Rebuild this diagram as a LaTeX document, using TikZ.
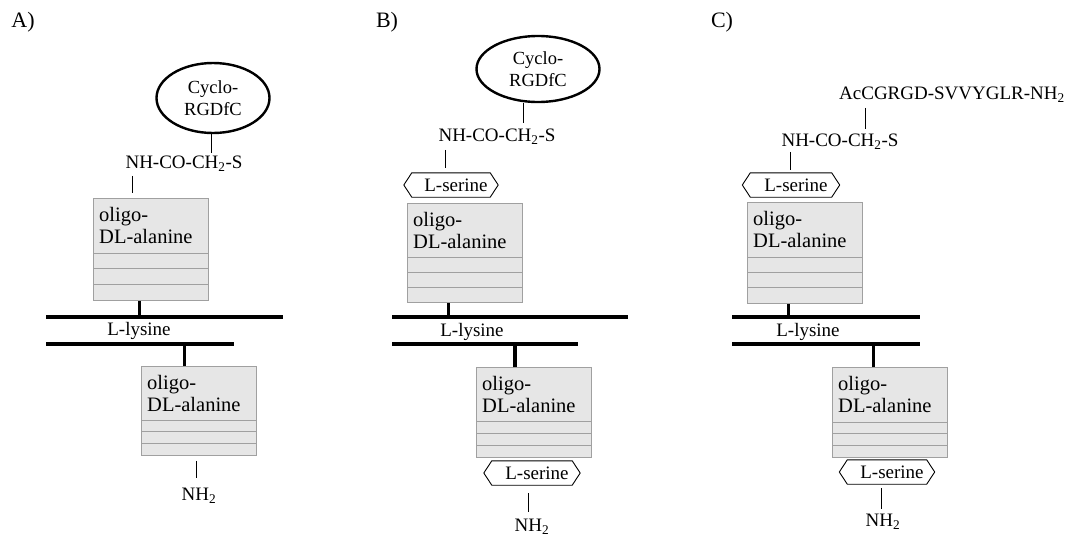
\documentclass[tikz,border=0pt]{standalone}
\usepackage{fontspec}
\setmainfont{Liberation Serif}
\usetikzlibrary{calc,shapes.geometric}
\definecolor{boxfill}{HTML}{E6E6E6}
\definecolor{boxline}{HTML}{A0A0A0}
\tikzset{
  lbl/.style={font=\fontsize{19}{21}\selectfont, inner sep=0pt},
  panel/.style={font=\fontsize{22}{24}\selectfont, inner sep=0pt},
  cyc/.style={ellipse, draw, line width=2.4pt, align=center, font=\fontsize{18.5}{22}\selectfont, inner sep=0pt},
  oligo/.style={draw=boxline, fill=boxfill, line width=0.9pt, minimum width=115pt, anchor=north west, inner sep=0pt},
  stripe/.style={draw=boxline, line width=0.9pt},
  otext/.style={font=\fontsize{20.5}{22}\selectfont, align=left, anchor=north west, inner sep=0pt},
  bar/.style={line width=3.2pt},
  post/.style={line width=3.2pt},
  conn/.style={line width=0.8pt},
  hexn/.style={minimum height=24pt, inner sep=0pt},
  hexline/.style={line width=0.9pt, line join=miter}
}
\newcommand{\drawhex}[1]{\draw[hexline] (#1.north west) -- ([xshift=-8pt]#1.west) -- (#1.south west) -- (#1.south east) -- ([xshift=8pt]#1.east) -- (#1.north east) -- cycle;}
\newcommand{\oligobox}[5]{%
  \node[oligo, minimum height=#4pt] (#1) at (#2,#3) {};
  \pgfmathsetmacro\stripeh{(#4-#5)/3}
  \pgfmathsetmacro\stripea{#5}
  \pgfmathsetmacro\stripeb{#5+\stripeh}
  \pgfmathsetmacro\stripec{#5+2*\stripeh}
  \draw[stripe] ([yshift=-\stripea pt]#1.north west) -- ([yshift=-\stripea pt]#1.north east);
  \draw[stripe] ([yshift=-\stripeb pt]#1.north west) -- ([yshift=-\stripeb pt]#1.north east);
  \draw[stripe] ([yshift=-\stripec pt]#1.north west) -- ([yshift=-\stripec pt]#1.north east);
  \node[otext] (#1t) at ([xshift=6pt,yshift=-9pt]#1.north west) {oligo-\\DL-alanine};
}
\begin{document}
\begin{tikzpicture}[x=1pt,y=-1pt]
\useasboundingbox (0,0) rectangle (1066,536);

% ---------- Panel A ----------
\node[panel] (pA) at (23,22) {A)};
\node[cyc, minimum width=113pt, minimum height=70pt] (eA) at (213,98) {Cyclo-\\RGDfC};
\node[lbl] (kA) at (184,164) {NH-CO-CH\textsubscript{2}-S};
\draw[conn, shorten >=3pt] ([xshift=-2pt]eA.south) -- ([xshift=-2pt]eA.south |- kA.north);
\oligobox{oA1}{93}{198}{102}{55}
\draw[conn, shorten <=4pt, shorten >=5pt] ([xshift=7pt]kA.south west) -- ([xshift=7pt]kA.south west |- oA1.north);
\coordinate (At1) at (46,317); \coordinate (At2) at (283,317);
\draw[bar] (At1) -- (At2);
\draw[post] ([xshift=-11.5pt]oA1.south) -- ([xshift=-11.5pt]oA1.south |- At1);
\node[lbl] (lysA) at (139,331) {L-lysine};
\coordinate (Ab1) at (46,344); \coordinate (Ab2) at (234,344);
\draw[bar] (Ab1) -- (Ab2);
\oligobox{oA2}{141}{366}{89}{54}
\draw[post] ([xshift=-14.5pt]oA2.north) -- ([xshift=-14.5pt]oA2.north |- Ab1);
\node[lbl] (nA) at (199,496) {NH\textsubscript{2}};
\draw[conn, shorten <=5pt, shorten >=10pt] ([xshift=-2.5pt]oA2.south) -- ([xshift=-2.5pt]oA2.south |- nA.north);

% ---------- Panel B ----------
\node[panel] (pB) at (387,22) {B)};
\node[cyc, minimum width=123pt, minimum height=66pt] (eB) at (538,69) {Cyclo-\\RGDfC};
\node[lbl] (kB) at (497,137) {NH-CO-CH\textsubscript{2}-S};
\draw[conn, shorten >=6pt] ([xshift=-15pt]eB.south) -- ([xshift=-15pt]eB.south |- kB.north);
\node[hexn, minimum width=78pt] (hB1) at (451,185) {};
\drawhex{hB1}
\node[lbl] (tB1) at (456,185) {L-serine};
\draw[conn, shorten <=5pt, shorten >=5pt] ([xshift=7pt]kB.south west) -- ([xshift=7pt]kB.south west |- hB1.north);
\oligobox{oB1}{407}{203}{99}{54}
\coordinate (Bt1) at (392,317); \coordinate (Bt2) at (628,317);
\draw[bar] (Bt1) -- (Bt2);
\draw[post] ([xshift=-16.5pt]oB1.south) -- ([xshift=-16.5pt]oB1.south |- Bt1);
\node[lbl] (lysB) at (472,332) {L-lysine};
\coordinate (Bb1) at (392,344); \coordinate (Bb2) at (578,344);
\draw[bar] (Bb1) -- (Bb2);
\oligobox{oB2}{476}{367}{90}{54}
\draw[post] ([xshift=-19pt]oB2.north) -- ([xshift=-19pt]oB2.north |- Bb1);
\node[hexn, minimum width=80pt] (hB2) at (532,473) {};
\drawhex{hB2}
\node[lbl] (tB2) at (537,473) {L-serine};
\node[lbl] (nB) at (532,527) {NH\textsubscript{2}};
\draw[conn, shorten <=8pt, shorten >=7pt] ([xshift=-4pt]hB2.south) -- ([xshift=-4pt]hB2.south |- nB.north);

% ---------- Panel C ----------
\node[panel] (pC) at (722,22) {C)};
\node[lbl] (aC) at (952,95) {AcCGRGD-SVVYGLR-NH\textsubscript{2}};
\node[lbl] (kC) at (840,142) {NH-CO-CH\textsubscript{2}-S};
\draw[conn, shorten <=5pt, shorten >=5pt] ([xshift=26pt]aC.south west) -- ([xshift=26pt]aC.south west |- kC.north);
\node[hexn, minimum width=81pt] (hC1) at (791,185) {};
\drawhex{hC1}
\node[lbl] (tC1) at (796,185) {L-serine};
\draw[conn, shorten <=2pt, shorten >=3pt] ([xshift=9pt]kC.south west) -- ([xshift=9pt]kC.south west |- hC1.north);
\oligobox{oC1}{747}{202}{101}{55}
\coordinate (Ct1) at (732,317); \coordinate (Ct2) at (920,317);
\draw[bar] (Ct1) -- (Ct2);
\draw[post] ([xshift=-16.5pt]oC1.south) -- ([xshift=-16.5pt]oC1.south |- Ct1);
\node[lbl] (lysC) at (808,332) {L-lysine};
\coordinate (Cb1) at (732,344); \coordinate (Cb2) at (920,344);
\draw[bar] (Cb1) -- (Cb2);
\oligobox{oC2}{832}{367}{90}{55}
\draw[post] ([xshift=-16.5pt]oC2.north) -- ([xshift=-16.5pt]oC2.north |- Cb1);
\node[hexn, minimum width=79pt] (hC2) at (887,472) {};
\drawhex{hC2}
\node[lbl] (tC2) at (892,472) {L-serine};
\node[lbl] (nC) at (883,522) {NH\textsubscript{2}};
\draw[conn, shorten <=4pt, shorten >=5pt] ([xshift=-6pt]hC2.south) -- ([xshift=-6pt]hC2.south |- nC.north);
\end{tikzpicture}
\end{document}
